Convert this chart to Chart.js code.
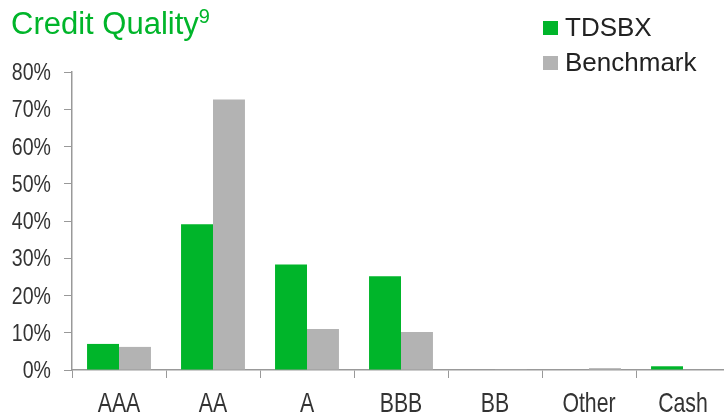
<!DOCTYPE html>
<html>
<head>
<meta charset="utf-8">
<script src="https://cdn.jsdelivr.net/npm/chart.js@4"></script>
<style>
  body { margin: 0; background: #fff; font-family: "Liberation Sans", Arial, sans-serif; }
  #wrap { position: relative; width: 724px; height: 413px; overflow: hidden; }
  #titulo { position: absolute; left: 11px; top: 6px; font-size: 31px; color: #00b52a; white-space: nowrap; }
  #titulo sup { font-size: 20px; vertical-align: 0; position: relative; top: -11px; }
  #legenda { position: absolute; left: 543px; top: 12px; font-size: 26px; color: #222; }
  .item { height: 35px; line-height: 30px; white-space: nowrap; }
  .caixa { display: inline-block; width: 15px; height: 14px; margin-right: 7px; vertical-align: 0; position: relative; top: -1px; }
</style>
</head>
<body>
<div id="wrap">
  <canvas id="grafico" width="730" height="413"></canvas>
  <div id="titulo">Credit Quality<sup>9</sup></div>
  <div id="legenda">
    <div class="item"><span class="caixa" style="background:#00b52a"></span>TDSBX</div>
    <div class="item"><span class="caixa" style="background:#b3b3b3"></span>Benchmark</div>
  </div>
</div>
<script>
const categorias = ["AAA", "AA", "A", "BBB", "BB", "Other", "Cash"];
const valoresFundo = [7.0, 39.1, 28.3, 25.2, 0, 0, 1.0];
const valoresBenchmark = [6.2, 72.6, 11.0, 10.2, 0.2, 0.5, 0];
const ticksY = [0, 10, 20, 30, 40, 50, 60, 70, 80];

const corEixo = "#999";
const corTexto = "#333";

// rotulos dos eixos desenhados "estreitos" (fonte condensada na horizontal)
const rotulosEstreitos = {
    id: "rotulosEstreitos",
    afterDraw(chart) {
        const c = chart.ctx;
        const sx = chart.scales.x, sy = chart.scales.y;
        c.save();
        c.fillStyle = corTexto;
        c.font = "28px 'Liberation Sans'";
        c.textAlign = "center";
        c.textBaseline = "alphabetic";
        sx.ticks.forEach((t, i) => {
            c.save();
            c.translate(sx.getPixelForTick(i), sx.top + 42);
            c.scale(0.76, 1);
            c.fillText(sx.getLabelForValue(t.value), 0, 0);
            c.restore();
        });
        c.font = "23px 'Liberation Sans'";
        c.textAlign = "right";
        sy.ticks.forEach((t) => {
            c.save();
            c.translate(sy.right - 21, sy.getPixelForValue(t.value) + 8);
            c.scale(0.85, 1);
            c.fillText(t.value + "%", 0, 0);
            c.restore();
        });
        c.restore();
    }
};

const ctx = document.getElementById("grafico").getContext("2d");

new Chart(ctx, {
    type: "bar",
    data: {
        labels: categorias,
        datasets: [
            { label: "TDSBX", data: valoresFundo, backgroundColor: "#00b52a", barPercentage: 1, categoryPercentage: 0.68 },
            { label: "Benchmark", data: valoresBenchmark, backgroundColor: "#b3b3b3", barPercentage: 1, categoryPercentage: 0.68 }
        ]
    },
    options: {
        responsive: false,
        animation: false,
        devicePixelRatio: 1,
        layout: { padding: { top: 72, right: 0, left: 0, bottom: 0 } },
        plugins: { legend: { display: false }, tooltip: { enabled: false } },
        scales: {
            x: {
                grid: { drawOnChartArea: false, drawTicks: true, tickLength: 8, color: corEixo, offset: true },
                border: { color: corEixo, width: 1.5 },
                ticks: { display: false },
                afterFit: (s) => { s.height = 43; }
            },
            y: {
                min: 0,
                max: 80,
                afterBuildTicks: (s) => { s.ticks = ticksY.map(v => ({ value: v })); },
                grid: { drawOnChartArea: false, drawTicks: true, tickLength: 8, color: corEixo },
                border: { color: corEixo, width: 1.5 },
                ticks: { display: false },
                afterFit: (s) => { s.width = 72; }
            }
        }
    },
    plugins: [rotulosEstreitos]
});
</script>
</body>
</html>
